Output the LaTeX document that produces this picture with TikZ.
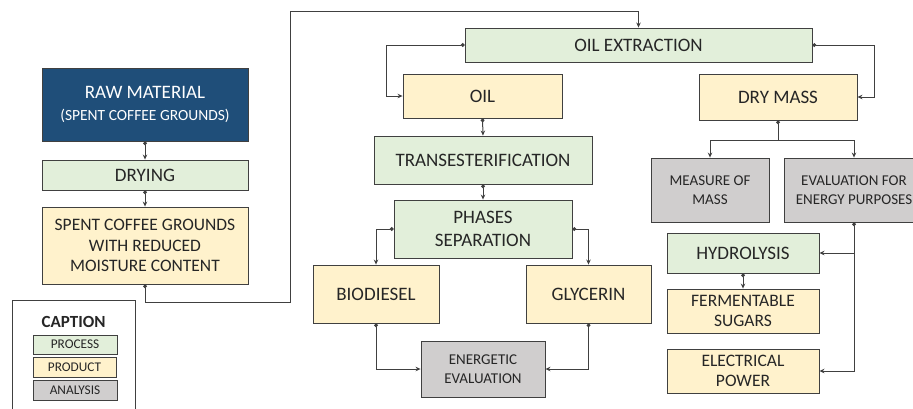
\documentclass[tikz,border=0pt]{standalone}
\usepackage{fontspec}
\setmainfont{Carlito}
\usetikzlibrary{arrows.meta}
\definecolor{procc}{HTML}{E2EFDA}
\definecolor{prodc}{HTML}{FFF2CC}
\definecolor{anac}{HTML}{D0CECE}
\definecolor{rawc}{HTML}{1F4E79}
\definecolor{edgec}{HTML}{404040}
\definecolor{linec}{HTML}{404040}
\definecolor{txtc}{HTML}{262626}
\begin{document}
\begin{tikzpicture}[x=1pt,y=-1pt,
 box/.style={draw=edgec, line width=0.9pt, inner sep=0pt, align=center, text=txtc, font=\fontsize{19}{23}\selectfont},
 proc/.style={box, fill=procc},
 prod/.style={box, fill=prodc},
 ana/.style={box, fill=anac, font=\fontsize{15}{19}\selectfont},
 conn/.style={draw=linec, line width=1pt, {Circle[length=3.8pt]}-{Stealth[length=5pt,width=4.5pt]}},
 tip/.style={draw=linec, line width=1pt, -{Stealth[length=5pt,width=4.5pt]}},
]
\useasboundingbox (0,0) rectangle (913,408);

% left column
\node[box, fill=rawc, text=white, minimum width=206pt, minimum height=73pt] (raw) at (145,104.5)
  {RAW MATERIAL\\[-1pt]{\fontsize{15.5}{19}\selectfont (SPENT COFFEE GROUNDS)}};
\node[proc, minimum width=206pt, minimum height=30pt] (dry1) at (145,175) {DRYING};
\node[prod, minimum width=206pt, minimum height=77pt, font=\fontsize{17.5}{20.7}\selectfont] (spent) at (145,245.5)
  {SPENT COFFEE GROUNDS\\WITH REDUCED\\MOISTURE CONTENT};

% caption
\node[draw=edgec, line width=0.9pt, minimum width=123pt, minimum height=112pt, inner sep=0pt] (cap) at (73.5,356) {};
\node[text=txtc, font=\bfseries\fontsize{17}{20}\selectfont, inner sep=0pt] (captitle) at (73.5,322) {CAPTION};
\node[proc, minimum width=84pt, minimum height=19pt, font=\fontsize{13.3}{15}\selectfont] (lp) at (75,344.5) {PROCESS};
\node[prod, minimum width=83pt, minimum height=20pt, font=\fontsize{13.3}{15}\selectfont] (lq) at (74.5,367) {PRODUCT};
\node[ana, minimum width=84pt, minimum height=20pt, font=\fontsize{13.3}{15}\selectfont] (la) at (75,390) {ANALYSIS};

% middle
\node[proc, minimum width=347pt, minimum height=34pt] (ext) at (638.5,45) {OIL EXTRACTION};
\node[prod, minimum width=159pt, minimum height=44pt] (oil) at (482.5,96) {OIL};
\node[proc, minimum width=218pt, minimum height=48pt] (trans) at (483,160) {TRANSESTERIFICATION};
\node[proc, minimum width=178pt, minimum height=58pt] (phase) at (483,229) {PHASES\\SEPARATION};
\node[prod, minimum width=126pt, minimum height=58pt] (bio) at (376,294) {BIODIESEL};
\node[prod, minimum width=125pt, minimum height=58pt] (gly) at (588.5,294) {GLYCERIN};
\node[ana, minimum width=124pt, minimum height=56pt] (ener) at (483,369) {ENERGETIC\\EVALUATION};

% right
\node[prod, minimum width=158pt, minimum height=46pt] (drym) at (778,97) {DRY MASS};
\node[ana, minimum width=118pt, minimum height=64pt] (meas) at (710,190) {MEASURE OF\\MASS};
\node[ana, minimum width=140pt, minimum height=64pt] (eval) at (854,190) {EVALUATION FOR\\ENERGY PURPOSES};
\node[proc, minimum width=152pt, minimum height=40pt] (hydro) at (743,253) {HYDROLYSIS};
\node[prod, minimum width=152pt, minimum height=44pt, font=\fontsize{17.5}{20.7}\selectfont] (ferm) at (743,311) {FERMENTABLE\\SUGARS};
\node[prod, minimum width=152pt, minimum height=44pt, font=\fontsize{17.5}{20.7}\selectfont] (elec) at (743,371) {ELECTRICAL\\POWER};

% coordinates
\coordinate (c1) at (145,302);
\coordinate (c2) at (290,11);
\coordinate (c3) at (386,45);
\coordinate (c4) at (874,45);
\coordinate (c5) at (778,140);
\coordinate (c6) at (854,253);

% connectors
\draw[conn] (raw.south) -- (dry1.north);
\draw[conn] (dry1.south) -- (spent.north);
\draw[conn] (spent.south) -- (c1) -| (c2) -| (ext.north);
\draw[conn] (ext.west) -- (c3) |- (oil.west);
\draw[conn] (ext.east) -- (c4) |- (drym.east);
\draw[conn] (oil.south) -- (trans.north);
\draw[conn] (trans.south) -- (phase.north);
\draw[conn] (phase.west) -| (bio.north);
\draw[conn] (phase.east) -| (gly.north);
\draw[conn] (bio.south) |- (ener.west);
\draw[conn] (gly.south) |- (ener.east);
\draw[conn] (drym.south) -- (c5) -| (meas.north);
\draw[tip] (c5) -| (eval.north);
\draw[conn] (eval.south) |- (elec.east);
\draw[tip] (c6) -- (hydro.east);
\draw[conn] (hydro.south) -- (ferm.north);
\end{tikzpicture}
\end{document}
